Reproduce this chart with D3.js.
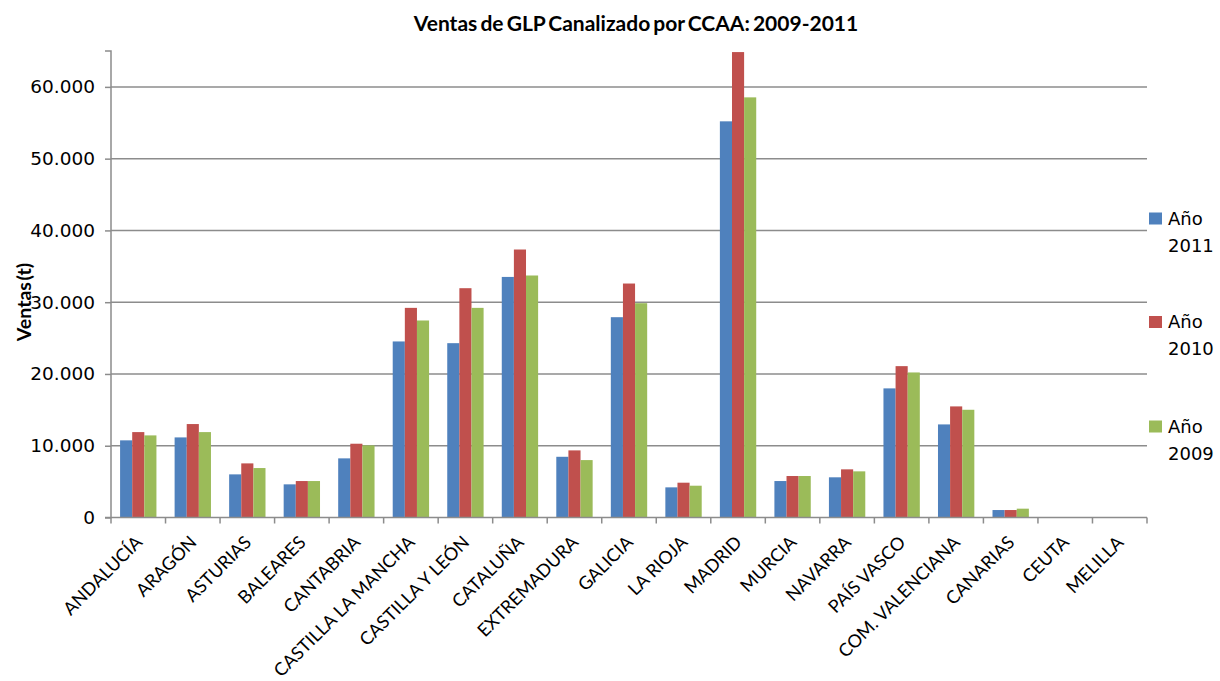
<!DOCTYPE html>
<html>
<head>
<meta charset="utf-8">
<script src="https://cdn.jsdelivr.net/npm/d3@7"></script>
<style>
  body { margin: 0; background: #fff; }
  svg { display: block; }
</style>
</head>
<body>
<div id="chart"></div>
<script>
// data (toneladas)
var regions = ["ANDALUCÍA", "ARAGÓN", "ASTURIAS", "BALEARES", "CANTABRIA",
  "CASTILLA LA MANCHA", "CASTILLA Y LEÓN", "CATALUÑA", "EXTREMADURA", "GALICIA",
  "LA RIOJA", "MADRID", "MURCIA", "NAVARRA", "PAÍS VASCO", "COM. VALENCIANA",
  "CANARIAS", "CEUTA", "MELILLA"];
var years = ["Año 2011", "Año 2010", "Año 2009"];
var ventas2011 = [10750, 11160, 6010, 4620, 8240, 24530, 24290, 33520, 8460, 27910,
  4200, 55200, 5080, 5600, 17990, 12970, 1040, 0, 0];
var ventas2010 = [11900, 13020, 7540, 5080, 10280, 29210, 31950, 37340, 9350, 32600,
  4850, 64850, 5780, 6710, 21090, 15480, 1040, 0, 0];
var ventas2009 = [11440, 11900, 6890, 5080, 10050, 27450, 29210, 33720, 8000, 29860,
  4430, 58540, 5780, 6430, 20210, 15010, 1230, 0, 0];
var yTicks = [0, 10000, 20000, 30000, 40000, 50000, 60000];
var colors = ["#4F81BD", "#C0504D", "#9BBB59"];

var series = [ventas2011, ventas2010, ventas2009];

var W = 1220, H = 681;
var margin = {top: 51, right: 73, bottom: 163.5, left: 111},
    width = W - margin.left - margin.right,
    height = H - margin.top - margin.bottom;

var svg = d3.select("#chart").append("svg")
    .attr("width", W)
    .attr("height", H);

var g = svg.append("g")
    .attr("transform", "translate(" + margin.left + "," + margin.top + ")");

var x = d3.scaleBand()
    .domain(regions)
    .range([0, width])
    .paddingInner(0)
    .paddingOuter(0);

var bw = x.bandwidth() / 4.5;   // excel gap width 150%

var y = d3.scaleLinear()
    .domain([0, 65000])
    .range([height, 0]);

var fmt = function(d) { return d === 0 ? "0" : d3.format(",")(d).replace(/,/g, "."); };

// gridlines
g.append("g")
  .selectAll("line")
  .data(yTicks.slice(1))
  .enter().append("line")
    .attr("x1", 0)
    .attr("x2", width)
    .attr("y1", function(d) { return y(d); })
    .attr("y2", function(d) { return y(d); })
    .attr("stroke", "#8c8c8c")
    .attr("stroke-width", 1.5);

// bars
series.forEach(function(vals, si) {
  g.append("g")
    .selectAll("rect")
    .data(vals)
    .enter().append("rect")
      .attr("x", function(d, i) { return x(regions[i]) + 0.75 * bw + si * bw; })
      .attr("y", function(d) { return y(d); })
      .attr("width", bw)
      .attr("height", function(d) { return height - y(d); })
      .attr("fill", colors[si]);
});

// y axis
var yAxis = g.append("g")
    .call(d3.axisLeft(y).tickValues(yTicks).tickFormat(fmt).tickSize(6).tickPadding(10));
yAxis.select(".domain").attr("stroke", "#8c8c8c").attr("stroke-width", 1.5)
    .attr("d", "M-6," + y(65000) + "H0V" + height + "H-6");
yAxis.selectAll(".tick line").attr("stroke", "#8c8c8c").attr("stroke-width", 1.5);
yAxis.selectAll(".tick text")
    .attr("font-family", "DejaVu Sans")
    .attr("font-size", "18.5px")
    .attr("fill", "#000");

// x axis: ticks at the category boundaries
var xg = g.append("g").attr("transform", "translate(0," + height + ")");
xg.append("line")
    .attr("x1", 0).attr("x2", width)
    .attr("stroke", "#8c8c8c").attr("stroke-width", 1.5);
xg.selectAll(".bound")
  .data(d3.range(regions.length + 1))
  .enter().append("line")
    .attr("x1", function(i) { return i * x.step(); })
    .attr("x2", function(i) { return i * x.step(); })
    .attr("y1", 0).attr("y2", 6)
    .attr("stroke", "#8c8c8c").attr("stroke-width", 1.5);
xg.selectAll(".lab")
  .data(regions)
  .enter().append("text")
    .attr("transform", function(d) {
      return "translate(" + (x(d) + x.bandwidth() / 2 + 5) + ",26) rotate(-45)";
    })
    .attr("text-anchor", "end")
    .attr("font-family", "Lato")
    .attr("font-size", "18px")
    .attr("fill", "#000")
    .text(function(d) { return d; });

// title
svg.append("text")
    .attr("x", 636)
    .attr("y", 31)
    .attr("text-anchor", "middle")
    .attr("font-family", "Lato")
    .attr("font-weight", "bold")
    .attr("font-size", "21px")
    .attr("word-spacing", "-2px")
    .text("Ventas de GLP Canalizado por CCAA: 2009-2011");

// y label
svg.append("text")
    .attr("transform", "translate(31,302) rotate(-90)")
    .attr("text-anchor", "middle")
    .attr("font-family", "Lato")
    .attr("font-weight", "bold")
    .attr("font-size", "19.5px")
    .attr("word-spacing", "-3px")
    .text("Ventas (t)");

// legend
var legend = svg.append("g");
var legY = [212.5, 316, 420.5];
years.forEach(function(name, i) {
  var parts = name.split(" ");
  var lg = legend.append("g").attr("transform", "translate(1149," + legY[i] + ")");
  lg.append("rect")
    .attr("width", 13).attr("height", 12)
    .attr("fill", colors[i]);
  lg.append("text")
    .attr("x", 19).attr("y", 12)
    .attr("font-family", "DejaVu Sans")
    .attr("font-size", "18px")
    .text(parts[0]);
  lg.append("text")
    .attr("x", 19).attr("y", 39)
    .attr("font-family", "DejaVu Sans")
    .attr("font-size", "18px")
    .text(parts[1]);
});
</script>
</body>
</html>
